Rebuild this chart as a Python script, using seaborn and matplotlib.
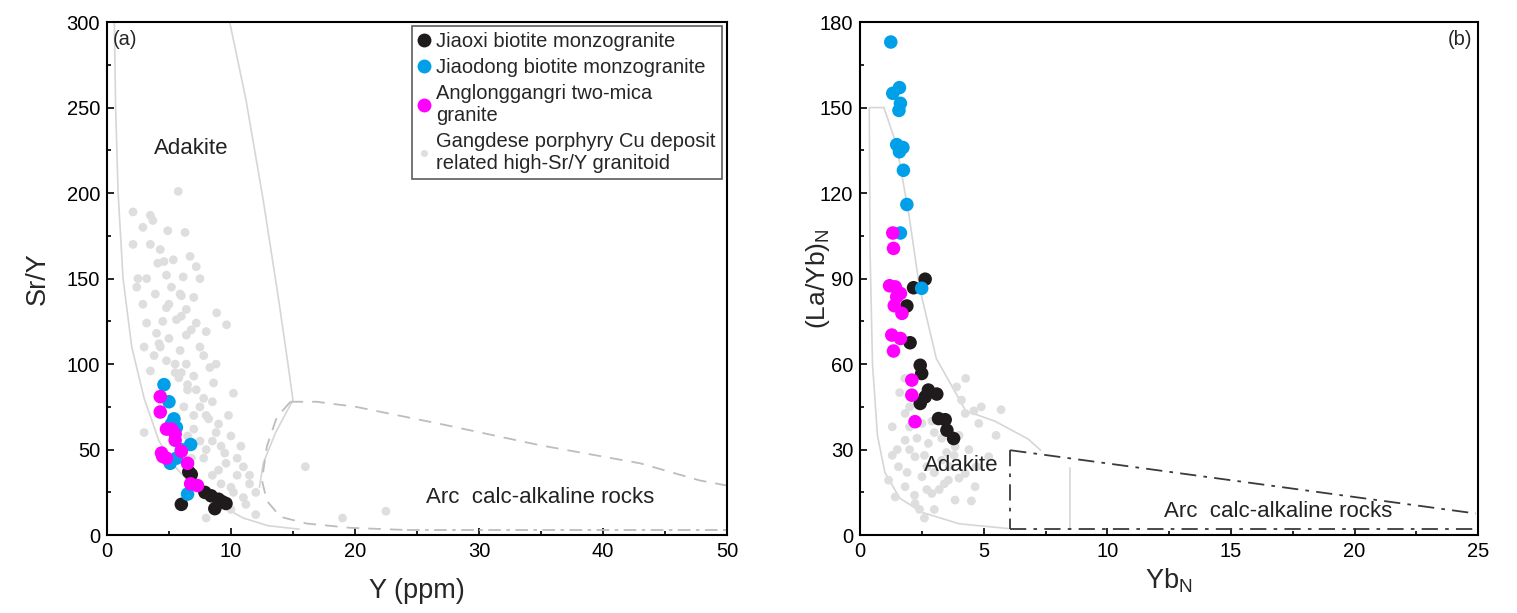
import matplotlib
matplotlib.use("Agg")
import matplotlib.pyplot as plt
from matplotlib.lines import Line2D
from matplotlib.ticker import MultipleLocator
import seaborn as sns
import pandas as pd

# ---------------- data: panel (a) Sr/Y vs Y ----------------
jiaoxi_a_y = [6.6, 6.8, 6.0, 7.9, 8.4, 8.7, 9.0, 9.3, 9.6]
jiaoxi_a_sry = [37, 35.5, 18, 25, 23, 15.5, 21, 19.5, 18.5]

jiaodong_a_y = [4.6, 5.0, 5.4, 5.2, 5.6, 6.75, 5.6, 5.1, 6.5, 6.0]
jiaodong_a_sry = [88, 78, 68, 65, 63, 53, 45, 42, 24, 50]

anglong_a_y = [4.3, 4.3, 4.8, 5.2, 5.5, 5.5, 6.0, 4.4, 4.8, 4.5, 6.5, 6.75, 7.3]
anglong_a_sry = [81, 72, 62, 62, 59, 55.5, 49, 48, 45, 46, 42, 30, 29]

gangdese_a_y = [5.75, 2.1, 3.5, 2.9, 3.7, 4.9, 6.3, 2.1, 4.3, 4.1, 5.35, 6.7, 7.2, 4.8,
                6.15, 7.5, 2.4, 3.9, 5.9, 7.0, 2.9, 4.8, 6.4, 8.85, 3.2, 5.6, 7.2, 9.65,
                4.0, 6.4, 8.0, 4.3, 5.9, 7.5, 4.8, 6.4, 8.3, 3.5, 7.0, 8.6, 10.2, 7.5,
                8.0, 9.0, 7.0, 10.0, 8.5, 9.5, 10.5, 7.8, 11.0, 9.0, 10.5, 11.5, 10.0,
                12.0, 11.0, 10.0, 12.0, 8.0, 3.0, 6.5, 5.5, 22.5, 16.0, 19.0, 3.0, 2.5,
                5.5, 6.0, 6.5, 7.2, 7.8, 8.5, 6.2, 7.0, 8.2, 6.5, 7.5, 8.8, 9.2, 8.0,
                9.8, 10.8, 6.8, 9.6, 8.5, 11.5, 10.2, 11.2, 9.2, 3.5, 4.6, 5.2, 3.2,
                6.0, 4.5, 5.0, 3.8, 6.8, 5.8, 5.0, 6.0, 4.2, 7.8, 8.8]
gangdese_a_sry = [201, 189, 187, 180, 184, 178, 177, 170, 167, 159, 161, 163, 157, 152,
                  151, 150, 145, 141, 141, 139, 135, 133, 132, 130, 124, 126, 124, 123,
                  118, 117, 119, 110, 108, 110, 102, 100, 98, 96, 93, 89, 83, 75,
                  70, 65, 62, 58, 55, 48, 45, 45, 40, 38, 35, 30, 28,
                  25, 22, 15, 12, 10, 60, 85, 95, 14, 40, 10, 110, 150,
                  100, 95, 88, 85, 80, 78, 75, 70, 68, 58, 55, 60, 52, 50,
                  70, 52, 45, 42, 35, 35, 25, 18, 30, 170, 160, 145, 150,
                  140, 125, 115, 105, 120, 92, 135, 128, 112, 105, 100]

# ---------------- data: panel (b) (La/Yb)N vs YbN ----------------
jiaoxi_b_yb = [2.63, 2.16, 1.89, 2.02, 2.43, 2.49, 2.76, 3.10, 2.43, 2.63, 3.17, 3.51, 3.78, 3.44]
jiaoxi_b_lay = [89.8, 86.8, 80.4, 67.5, 59.6, 56.7, 50.9, 49.5, 46.2, 48.5, 40.9, 36.8, 33.9, 40.5]

jiaodong_b_yb = [1.24, 1.59, 1.32, 1.63, 1.57, 1.48, 1.73, 1.59, 1.75, 1.89, 1.63, 2.49]
jiaodong_b_lay = [173, 157, 155, 151.5, 149, 137, 136, 134.5, 128, 116, 106, 86.6]

anglong_b_yb = [1.32, 1.35, 1.19, 1.42, 1.63, 1.48, 1.38, 1.69, 1.28, 1.63, 1.35, 2.09, 2.09, 2.22]
anglong_b_lay = [106, 100.6, 87.5, 87.1, 84.8, 83.6, 80.5, 77.8, 70.2, 69.0, 64.6, 54.4, 49.1, 39.8]

gangdese_b_yb = [1.82, 2.5, 1.82, 2.76, 3.84, 2.22, 3.3, 1.55, 4.25, 2.5, 3.57, 4.65, 1.82,
                 2.9, 1.42, 3.84, 2.22, 1.15, 4.25, 4.9, 4.1, 4.8, 5.2, 5.7, 4.6, 3.9,
                 4.27, 1.6, 1.8, 2.0, 3.0, 3.5, 2.7, 4.0, 2.0, 1.3, 3.2, 5.5, 2.4, 3.0,
                 2.0, 2.3, 2.6, 3.0, 3.4, 2.7, 3.6, 4.0, 1.9, 2.2, 3.3, 3.8, 4.4, 4.7,
                 2.9, 1.5, 1.3, 4.5, 3.0, 2.6]
gangdese_b_lay = [42.7, 39.2, 33.3, 32.2, 31.0, 27.5, 26.3, 24.0, 21.6, 20.5, 19.3, 17.0, 17.0,
                  14.6, 13.4, 12.3, 11.1, 19.3, 42.7, 45.0, 47.4, 39.2, 27.5, 44.0, 43.6, 52.0,
                  55.0, 50.0, 55.0, 45.0, 36.0, 29.0, 24.0, 35.0, 30.0, 28.0, 16.0, 35.0, 9.0, 22.0,
                  38.0, 34.0, 28.0, 22.0, 18.0, 16.0, 24.0, 20.0, 22.0, 14.0, 34.0, 28.0, 30.0, 24.0,
                  40.0, 30.0, 38.0, 12.0, 9.0, 6.0]

groups = ["Jiaoxi biotite monzogranite", "Jiaodong biotite monzogranite",
          "Anglonggangri two-mica\ngranite",
          "Gangdese porphyry Cu deposit\nrelated high-Sr/Y granitoid"]
colors = ["#1f1b1c", "#00a0e9", "#ff00ff", "#dedede"]

def frame(xs, ys, g):
    return pd.DataFrame({"x": xs, "y": ys, "group": g})

df_a = pd.concat([frame(gangdese_a_y, gangdese_a_sry, groups[3]),
                  frame(jiaoxi_a_y, jiaoxi_a_sry, groups[0]),
                  frame(jiaodong_a_y, jiaodong_a_sry, groups[1]),
                  frame(anglong_a_y, anglong_a_sry, groups[2])], ignore_index=True)
df_b = pd.concat([frame(gangdese_b_yb, gangdese_b_lay, groups[3]),
                  frame(jiaoxi_b_yb, jiaoxi_b_lay, groups[0]),
                  frame(jiaodong_b_yb, jiaodong_b_lay, groups[1]),
                  frame(anglong_b_yb, anglong_b_lay, groups[2])], ignore_index=True)

# ---------------- field boundaries ----------------
adak_a_left_x = [0.6, 0.7, 0.9, 1.3, 2.0, 3.0, 4.2, 5.5, 7.0, 9.0, 11.0, 13.0, 15.5]
adak_a_left_y = [300, 250, 200, 150, 110, 80, 55, 40, 28, 18, 10, 5.5, 3.5]
adak_a_right_x = [9.9, 11.2, 12.6, 13.8, 14.6, 15.0, 13.6, 12.6, 12.3]
adak_a_right_y = [300, 255, 196, 140, 100, 79, 60, 42, 28]
arc_a_x = [14.8, 16.9, 20.1, 26.9, 34.9, 43.0, 47.8, 50.0]
arc_a_y = [78, 78, 75, 65, 52.6, 42, 32, 29]
arc_a_low_x = [14.8, 13.7, 12.9, 12.5, 12.9, 14.0, 16.1, 19.6, 24.2]
arc_a_low_y = [78, 69, 52, 32, 20, 10.7, 6.8, 4.3, 3.0]
arc_a_base_x = [24.2, 50.0]
arc_a_base_y = [3.0, 3.0]

adak_b_x = [0.96, 0.37, 0.4, 0.5, 0.7, 1.0, 1.6, 2.5, 4.0, 6.0]
adak_b_y = [150, 150, 100, 60, 35, 22, 13, 8, 4, 2.3]
adak_b_right_x = [0.96, 1.47, 1.98, 2.4, 3.08, 4.27, 5.45, 6.8, 7.3]
adak_b_right_y = [150, 137, 112, 87, 62, 43.6, 40, 33.7, 29.8]
arc_b_top_x = [6.07, 24.9]
arc_b_top_y = [29.8, 7.6]
arc_b_vert_x = [6.07, 6.07]
arc_b_vert_y = [29.8, 2.3]
arc_b_base_x = [6.07, 24.9]
arc_b_base_y = [2.3, 2.3]
inner_b_x = [8.5, 8.5]
inner_b_y = [23.5, 2.3]

# ---------------- figure ----------------
sns.set_theme(style="ticks")
plt.rcParams["font.family"] = ["Liberation Sans", "DejaVu Sans"]
plt.rcParams["mathtext.fontset"] = "custom"
plt.rcParams["mathtext.rm"] = "Liberation Sans"

fig = plt.figure(figsize=(15.17, 6.13), dpi=100)
ax_a = fig.add_axes([0.0705, 0.127, 0.4087, 0.837])
ax_b = fig.add_axes([0.567, 0.127, 0.4074, 0.837])

palette = dict(zip(groups, colors))
sizes = {groups[0]: 95, groups[1]: 95, groups[2]: 95, groups[3]: 40}

faint = dict(color="#d6d6d6", lw=1.2, zorder=1)
for ax, df in ((ax_a, df_a), (ax_b, df_b)):
    for g in [groups[3], groups[0], groups[1], groups[2]]:
        sub = df[df["group"] == g]
        sns.scatterplot(data=sub, x="x", y="y", color=palette[g], s=sizes[g],
                        edgecolor="none", linewidth=0, ax=ax, legend=False,
                        zorder=2 if g == groups[3] else 3)

# panel (a) lines
ax_a.plot(adak_a_left_x, adak_a_left_y, **faint)
ax_a.plot(adak_a_right_x, adak_a_right_y, **faint)
ax_a.plot(arc_a_x, arc_a_y, color="#bdbdbd", lw=1.3, ls=(0, (7, 5)), zorder=1)
ax_a.plot(arc_a_low_x, arc_a_low_y, color="#bdbdbd", lw=1.3, ls=(0, (7, 5)), zorder=1)
ax_a.plot(arc_a_base_x, arc_a_base_y, color="#bdbdbd", lw=1.3, ls=(0, (7, 3, 2, 3)), zorder=1)

# panel (b) lines
ax_b.plot(adak_b_x, adak_b_y, **faint)
ax_b.plot(adak_b_right_x, adak_b_right_y, **faint)
ax_b.plot(inner_b_x, inner_b_y, **faint)
dd = dict(color="#3a3a3a", lw=1.3, ls=(0, (9, 4, 2, 4)), zorder=1)
ax_b.plot(arc_b_top_x, arc_b_top_y, **dd)
ax_b.plot(arc_b_vert_x, arc_b_vert_y, **dd)
ax_b.plot(arc_b_base_x, arc_b_base_y, **dd)

# axes formatting
ax_a.set_xlim(0, 50)
ax_a.set_ylim(0, 300)
ax_a.xaxis.set_major_locator(MultipleLocator(10))
ax_a.xaxis.set_minor_locator(MultipleLocator(5))
ax_a.yaxis.set_major_locator(MultipleLocator(50))
ax_a.yaxis.set_minor_locator(MultipleLocator(25))
ax_b.set_xlim(0, 25)
ax_b.set_ylim(0, 180)
ax_b.xaxis.set_major_locator(MultipleLocator(5))
ax_b.xaxis.set_minor_locator(MultipleLocator(2.5))
ax_b.yaxis.set_major_locator(MultipleLocator(30))
ax_b.yaxis.set_minor_locator(MultipleLocator(15))

for ax in (ax_a, ax_b):
    for sp in ax.spines.values():
        sp.set_visible(True)
        sp.set_color("black")
        sp.set_linewidth(1.5)
    ax.tick_params(which="both", direction="in", top=False, right=False,
                   colors="black", labelsize=14.5, width=1.2)
    ax.tick_params(which="major", length=5, pad=5)
    ax.tick_params(which="minor", length=3)
    ax.set_facecolor("white")

ax_a.set_xlabel("Y (ppm)", fontsize=19.5)
ax_a.set_ylabel("Sr/Y", fontsize=19.5)
ax_b.set_xlabel(r"Yb$_\mathregular{N}$", fontsize=19.5)
ax_b.set_ylabel(r"(La/Yb)$_\mathregular{N}$", fontsize=19)
ax_a.xaxis.set_label_coords(0.5, -0.083)
ax_b.xaxis.set_label_coords(0.5, -0.062)
ax_a.yaxis.set_label_coords(-0.09, 0.5)
ax_b.yaxis.set_label_coords(-0.046, 0.5)

ax_a.text(0.01, 0.985, "(a)", transform=ax_a.transAxes, ha="left", va="top", fontsize=14.5)
ax_b.text(0.99, 0.985, "(b)", transform=ax_b.transAxes, ha="right", va="top", fontsize=14.5)

ax_a.text(6.8, 226, "Adakite", fontsize=16, ha="center", va="center", color="#222222")
ax_a.text(34.9, 22, "Arc  calc-alkaline rocks", fontsize=16, ha="center", va="center", color="#222222")
ax_b.text(4.1, 24.5, "Adakite", fontsize=16, ha="center", va="center", color="#222222", zorder=4)
ax_b.text(16.9, 8.2, "Arc  calc-alkaline rocks", fontsize=16, ha="center", va="center", color="#222222")

handles = [Line2D([], [], ls="none", marker="o", markersize=ms, color=c, markeredgewidth=0)
           for c, ms in zip(colors, [10, 10, 10, 5])]
leg = ax_a.legend(handles, groups, loc="upper right", bbox_to_anchor=(0.992, 0.992),
                  fontsize=14.5, frameon=True, fancybox=False, edgecolor="#333333",
                  handlelength=0.6, handletextpad=0.3, borderpad=0.3, labelspacing=0.35,
                  borderaxespad=0)
leg.get_frame().set_linewidth(1.2)

fig.savefig("out.png", dpi=100, facecolor="white")
